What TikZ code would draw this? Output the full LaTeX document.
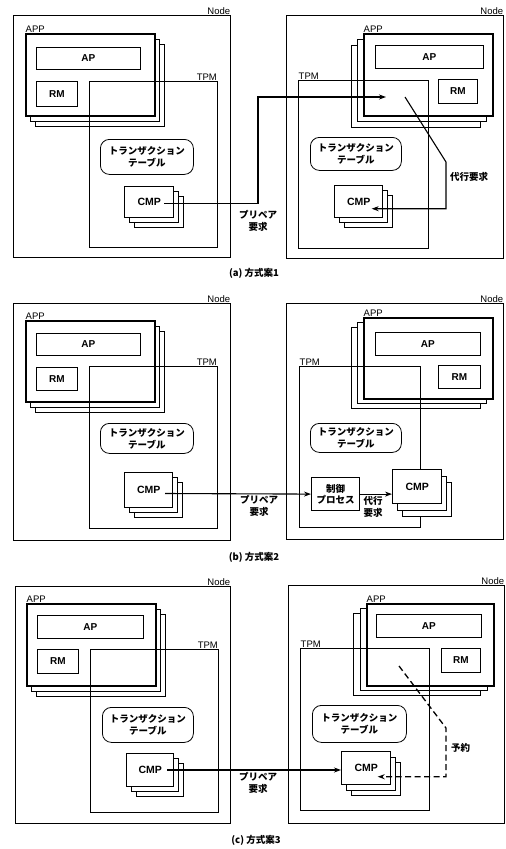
\documentclass[tikz,border=0pt]{standalone}
\usepackage{fontspec}
\setmainfont{Liberation Sans}
\newfontfamily\jp{Noto Sans CJK JP}
\usetikzlibrary{arrows.meta}
\newcommand\jpt{\jp\bfseries\fontsize{9.5}{12}\selectfont}
\newcommand\rb[6]{\node[#6,anchor=north west,minimum width={((#4)-(#2))*1pt},minimum height={((#5)-(#3))*1pt}] (#1) at ({#2},{#3})}
\newcommand\stk[8]{%
  \rb{#1-3}{#2+2*(#6)}{#3+2*(#7)}{#4+2*(#6)}{#5+2*(#7)}{#8,back}{};
  \rb{#1-2}{#2+(#6)}{#3+(#7)}{#4+(#6)}{#5+(#7)}{#8,back}{};
  \rb{#1}{#2}{#3}{#4}{#5}{#8,fill=white}}
\tikzset{
 nodebox/.style={draw,line width=0.8pt,inner sep=0pt},
 appbox/.style={draw,line width=1.8pt,inner sep=0pt},
 back/.style={fill=white,line width=1.3pt},
 inbox/.style={draw,line width=0.8pt,inner sep=0pt,font=\fontsize{10}{12}\selectfont\bfseries},
 tpmbox/.style={draw,line width=0.6pt,inner sep=0pt},
 tblbox/.style={draw,line width=0.8pt,rounded corners=9pt,inner sep=0pt,align=center,font=\jpt},
 cmpbox/.style={draw,line width=1.4pt,inner sep=0pt,font=\fontsize{10.5}{12}\selectfont\bfseries},
 ctrlbox/.style={draw,line width=1.2pt,inner sep=0pt,align=center,font=\jp\bfseries\fontsize{9.5}{11}\selectfont},
 lbl/.style={inner sep=0.5pt,font=\fontsize{9.5}{10}\selectfont},
 jlbl/.style={inner sep=0pt,align=center,font=\jpt},
 caplbl/.style={inner sep=0pt,font=\jp\bfseries\fontsize{9.5}{11}\selectfont},
 arr/.style={line width=1.1pt,-{Stealth[length=7pt,width=5pt]}},
 darr/.style={line width=1.3pt,-{Stealth[length=7pt,width=5pt]},dash pattern=on 6pt off 3.5pt},
}
\begin{document}
\begin{tikzpicture}[x=1pt,y=-1pt]
\useasboundingbox (0,0) rectangle (506,849);
% ================= (a) left
\rb{La_node}{13}{15}{230}{257}{nodebox}{};
\node[lbl,anchor=south east] (La_nl) at (La_node.north east) {Node};
\stk{La_app}{25}{33}{154}{115}{5}{5.5}{appbox}{};
\node[lbl,anchor=south west] (La_al) at (La_app.north west) {APP};
\rb{La_ap}{36}{47}{140}{69}{inbox}{AP};
\rb{La_rm}{36}{81}{77}{106}{inbox}{RM};
\rb{La_tpm}{89}{81}{217}{247}{tpmbox}{};
\node[lbl,anchor=south east] (La_tl) at (La_tpm.north east) {TPM};
\rb{La_tbl}{100}{139}{193}{174}{tblbox}{トランザクション\\テーブル};
\stk{La_cmp}{124}{186}{173}{217}{5}{5}{cmpbox}{CMP};
% ================= (a) right
\rb{Ra_node}{286}{15}{503}{258}{nodebox}{};
\node[lbl,anchor=south east] (Ra_nl) at (Ra_node.north east) {Node};
\stk{Ra_app}{363}{33}{492}{115}{-6}{6}{appbox}{};
\node[lbl,anchor=south west] (Ra_al) at (Ra_app.north west) {APP};
\rb{Ra_ap}{375}{45}{483}{68}{inbox}{AP};
\rb{Ra_rm}{438}{79}{477}{103}{inbox}{RM};
\rb{Ra_tpm}{298}{80}{428}{248}{tpmbox}{};
\node[lbl,anchor=south west] (Ra_tl) at (Ra_tpm.north west) {TPM};
\rb{Ra_tbl}{310}{137}{401}{170}{tblbox}{トランザクション\\テーブル};
\stk{Ra_cmp}{334}{185}{382}{217}{5}{5}{cmpbox}{CMP};
% arrows (a)
\coordinate (a1k) at (258,97);
\coordinate (a1e) at (386,97);
\draw[arr] ([xshift=15pt,yshift=-1.5pt]La_cmp.center) -| (a1k) -- (a1e);
\node[jlbl] (a1l) at (258,221) {プリペア\\要求};
\coordinate (a2s) at (405,97);
\coordinate (a2k) at (446,162);
\draw[arr] (a2s) -- (a2k) |- ([xshift=13pt,yshift=-7pt]Ra_cmp.center);
\node[jlbl,anchor=west] (a2l) at (450,177) {代行要求};
\node[caplbl] (capa) at (254,273) {(a) 方式案1};
% ================= (b) left
\rb{Lb_node}{13}{303}{230}{540}{nodebox}{};
\node[lbl,anchor=south east] (Lb_nl) at (Lb_node.north east) {Node};
\stk{Lb_app}{25}{320}{154}{401}{5}{5.5}{appbox}{};
\node[lbl,anchor=south west] (Lb_al) at (Lb_app.north west) {APP};
\rb{Lb_ap}{36}{333}{140}{355}{inbox}{AP};
\rb{Lb_rm}{36}{367}{77}{390}{inbox}{RM};
\rb{Lb_tpm}{89}{366}{217}{528}{tpmbox}{};
\node[lbl,anchor=south east] (Lb_tl) at (Lb_tpm.north east) {TPM};
\rb{Lb_tbl}{100}{423}{193}{453}{tblbox}{トランザクション\\テーブル};
\stk{Lb_cmp}{124}{472}{172}{507}{5}{5}{cmpbox}{CMP};
% ================= (b) right
\rb{Rb_node}{286}{303}{503}{539}{nodebox}{};
\node[lbl,anchor=south east] (Rb_nl) at (Rb_node.north east) {Node};
\stk{Rb_app}{363}{317}{492}{398}{-6}{5}{appbox}{};
\node[lbl,anchor=south west] (Rb_al) at (Rb_app.north west) {APP};
\rb{Rb_ap}{375}{332}{480}{355}{inbox}{AP};
\rb{Rb_rm}{438}{365}{480}{388}{inbox}{RM};
\rb{Rb_tpm}{299}{366}{420}{527}{tpmbox}{};
\node[lbl,anchor=south west] (Rb_tl) at (Rb_tpm.north west) {TPM};
\rb{Rb_tbl}{310}{423}{401}{452}{tblbox}{トランザクション\\テーブル};
\rb{Rb_ctrl}{311}{477}{359}{510}{ctrlbox}{制御\\プロセス};
\stk{Rb_cmp}{392}{469}{441}{503}{5}{6.5}{cmpbox}{CMP};
% arrows (b)
\coordinate (b1s) at (165,493.5);
\draw[arr] (b1s) -- (Rb_ctrl.west);
\node[jlbl] (b1l) at (259,506) {プリペア\\要求};
\draw[arr] (Rb_ctrl.east) -- (Rb_ctrl.east -| Rb_cmp.west);
\node[jlbl] (b2l) at (373,507) {代行\\要求};
\node[caplbl] (capb) at (254,557) {(b) 方式案2};
% ================= (c) left
\rb{Lc_node}{15}{586}{230}{823}{nodebox}{};
\node[lbl,anchor=south east] (Lc_nl) at (Lc_node.north east) {Node};
\stk{Lc_app}{26}{603}{155}{685}{5}{5.5}{appbox}{};
\node[lbl,anchor=south west] (Lc_al) at (Lc_app.north west) {APP};
\rb{Lc_ap}{37}{615}{143}{638}{inbox}{AP};
\rb{Lc_rm}{37}{649}{78}{673}{inbox}{RM};
\rb{Lc_tpm}{90}{649}{218}{812}{tpmbox}{};
\node[lbl,anchor=south east] (Lc_tl) at (Lc_tpm.north east) {TPM};
\rb{Lc_tbl}{102}{707}{193}{742}{tblbox}{トランザクション\\テーブル};
\stk{Lc_cmp}{126}{753}{173}{786}{5}{5}{cmpbox}{CMP};
% ================= (c) right
\rb{Rc_node}{288}{585}{504}{823}{nodebox}{};
\node[lbl,anchor=south east] (Rc_nl) at (Rc_node.north east) {Node};
\stk{Rc_app}{366}{603}{493}{685}{-6.5}{5}{appbox}{};
\node[lbl,anchor=south west] (Rc_al) at (Rc_app.north west) {APP};
\rb{Rc_ap}{376}{614}{481}{637}{inbox}{AP};
\rb{Rc_rm}{441}{648}{480}{672}{inbox}{RM};
\rb{Rc_tpm}{300}{648}{429}{810}{tpmbox}{};
\node[lbl,anchor=south west] (Rc_tl) at (Rc_tpm.north west) {TPM};
\rb{Rc_tbl}{312}{705}{406}{742}{tblbox}{トランザクション\\テーブル};
\stk{Rc_cmp}{341}{751}{390}{784}{5}{5.5}{cmpbox}{CMP};
% arrows (c)
\coordinate (c1s) at (167,770);
\draw[arr] (c1s) -- (c1s -| Rc_cmp.west);
\node[jlbl] (c1l) at (258,783) {プリペア\\要求};
\coordinate (c2s) at (399,666);
\coordinate (c2k) at (446,728);
\draw[darr] (c2s) -- (c2k) |- ([xshift=11.5pt,yshift=-8.5pt]Rc_cmp.center);
\node[jlbl,anchor=west] (c2l) at (451,748) {予約};
\node[caplbl] (capc) at (256,840) {(c) 方式案3};
\end{tikzpicture}
\end{document}
